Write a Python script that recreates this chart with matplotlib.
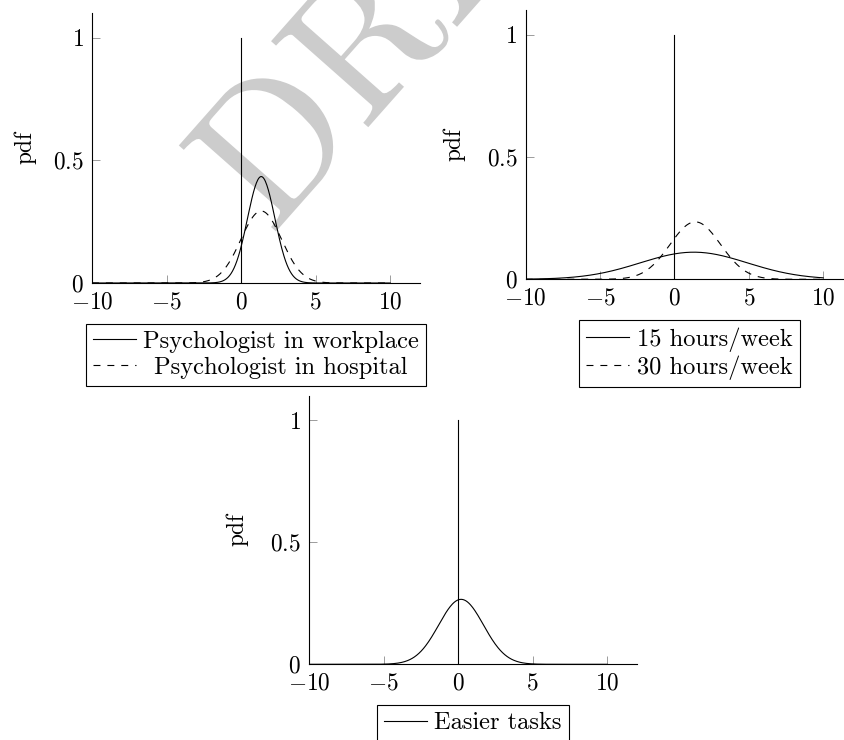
import numpy as np
import matplotlib.pyplot as plt
import matplotlib.transforms as mtransforms
from matplotlib.textpath import TextPath
from matplotlib.font_manager import FontProperties
from matplotlib.patches import PathPatch

plt.rcParams['font.family'] = 'serif'
plt.rcParams['font.serif'] = ['cmr10']
plt.rcParams['mathtext.fontset'] = 'cm'
plt.rcParams['axes.formatter.use_mathtext'] = True
plt.rcParams['font.size'] = 16.8
plt.rcParams['lines.scale_dashes'] = False

workplace_labels = ['Psychologist in workplace', 'Psychologist in hospital']
workplace_means = [1.35, 1.35]
workplace_sds = [0.92, 1.36]

hours_labels = ['15 hours/week', '30 hours/week']
hours_means = [1.3, 1.4]
hours_sds = [3.6, 1.7]

tasks_labels = ['Easier tasks']
tasks_means = [0.2]
tasks_sds = [1.5]

x_ticks = [-10, -5, 0, 5, 10]
x_tick_labels = ['$-10$', '$-5$', '$0$', '$5$', '$10$']
y_ticks = [0, 0.5, 1]
y_tick_labels = ['$0$', '$0.5$', '$1$']


def normal_pdf(x, mu, sd):
    return np.exp(-0.5 * ((x - mu) / sd) ** 2) / (sd * np.sqrt(2 * np.pi))


def draw_panel(fig, rect, labels, means, sds, label_x):
    ax = fig.add_axes(rect)
    ax.set_facecolor('none')
    x = np.linspace(-10, 10, 400)
    for i, (lab, mu, sd) in enumerate(zip(labels, means, sds)):
        line, = ax.plot(x, normal_pdf(x, mu, sd), color='black', lw=0.8, label=lab)
        if i == 1:
            line.set_dashes((5, 5))
    ax.plot([0, 0], [0, 1], color='black', lw=0.8)

    ax.set_xlim(-10, 12)
    ax.set_ylim(0, 1.1)
    for side in ['top', 'right']:
        ax.spines[side].set_visible(False)
    for side in ['left', 'bottom']:
        ax.spines[side].set_linewidth(0.8)
    ax.set_xticks(x_ticks, labels=x_tick_labels)
    ax.set_yticks(y_ticks, labels=y_tick_labels)
    ax.tick_params(direction='in', length=5.5, width=0.6, color='0.55', pad=6)

    ax.set_ylabel('pdf')
    ax.yaxis.set_label_coords(label_x, 0.5)

    leg = ax.legend(loc='upper center', bbox_to_anchor=(0.5, -0.15), borderaxespad=0,
                    fancybox=False, edgecolor='black', framealpha=1, fontsize=17.6,
                    handlelength=1.75, handletextpad=0.3, borderpad=0.3,
                    labelspacing=0.15)
    leg.get_frame().set_linewidth(0.8)
    return leg


def center_legend_text(fig, leg):
    # pgfplots centres the legend texts in their cell
    renderer = fig.canvas.get_renderer()
    texts = leg.get_texts()
    widths = [t.get_window_extent(renderer).width for t in texts]
    for t, w in zip(texts, widths):
        t.set_x((max(widths) - w) / 2)


def add_watermark(fig):
    # slightly condensed, rotated "DRAFT" behind everything, in pixel units
    path = TextPath((0, 0), 'DRAFT', size=190, prop=FontProperties(family='cmr10'))
    tr = mtransforms.Affine2D().scale(0.96, 1.0).rotate_deg(48.5).translate(272, 740 - 236)
    fig.add_artist(PathPatch(path, transform=tr, facecolor='0.8', edgecolor='none', zorder=-1))


def main():
    fig = plt.figure(figsize=(8.44, 7.40), dpi=100)

    legs = []
    legs.append(draw_panel(fig, [92 / 844, 1 - 283 / 740, 328 / 844, 270 / 740],
                           workplace_labels, workplace_means, workplace_sds, -0.17))
    legs.append(draw_panel(fig, [525.7 / 844, 1 - 279.3 / 740, 327.3 / 844, 269.2 / 740],
                           hours_labels, hours_means, hours_sds, -0.185))
    legs.append(draw_panel(fig, [309 / 844, 1 - 664.3 / 740, 328 / 844, 268.7 / 740],
                           tasks_labels, tasks_means, tasks_sds, -0.186))

    add_watermark(fig)

    fig.canvas.draw()
    for leg in legs:
        center_legend_text(fig, leg)

    fig.savefig('out.png', dpi=100)


if __name__ == '__main__':
    main()
